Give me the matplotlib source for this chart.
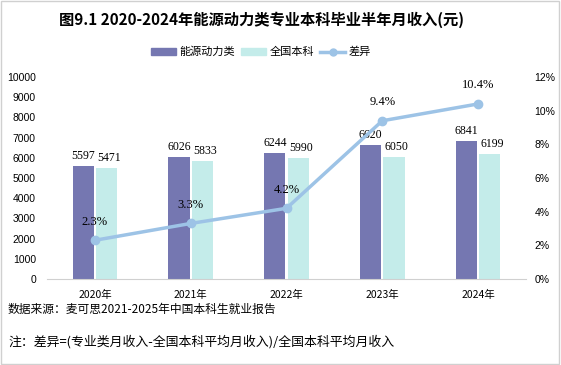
import matplotlib
matplotlib.use("Agg")
import matplotlib.pyplot as plt
import numpy as np
from matplotlib.lines import Line2D
from matplotlib.patches import Patch, Rectangle

years = ["2020年", "2021年", "2022年", "2023年", "2024年"]
major_income = [5597, 6026, 6244, 6620, 6841]
national_income = [5471, 5833, 5990, 6050, 6199]
diff_pct = [2.3, 3.3, 4.2, 9.4, 10.4]
left_ticks = list(range(0, 10001, 1000))
right_ticks = list(range(0, 13, 2))

title = "图9.1 2020-2024年能源动力类专业本科毕业半年月收入(元)"
source = "数据来源：麦可思2021-2025年中国本科生就业报告"
note = "注：差异=(专业类月收入-全国本科平均月收入)/全国本科平均月收入"

CJK = ["Noto Sans CJK SC", "DejaVu Sans"]
SERIF = ["Liberation Serif", "Noto Sans CJK SC"]
plt.rcParams['font.family'] = CJK

c_major = "#7577B1"
c_nat = "#C4ECEA"
c_line = "#9DC3E6"

fig = plt.figure(figsize=(5.61, 3.65), dpi=100)
fig.patches.append(Rectangle((0.002, 0.003), 0.995, 0.994, transform=fig.transFigure,
                             fill=False, edgecolor="#D0D0D0", linewidth=1.0))

ax = fig.add_axes([47/561, 1-279/365, (526-47)/561, (279-77)/365])
x = np.arange(len(years))
w = 0.22
g = 0.012
b1 = ax.bar(x - w/2 - g, major_income, width=w, color=c_major, zorder=2)
b2 = ax.bar(x + w/2 + g, national_income, width=w, color=c_nat, zorder=2)
ax.set_xlim(-0.5, len(years) - 0.5)
ax.set_ylim(0, 10000)
ax.set_yticks(left_ticks)
ax.set_yticklabels([str(v) for v in left_ticks], fontsize=7.5, family=["Liberation Sans"])
ax.set_xticks(x)
ax.set_xticklabels(years, fontsize=7.5)
ax.tick_params(axis='both', length=0, pad=8)
ax.tick_params(axis='y', pad=8)
for s in ["top", "left", "right"]:
    ax.spines[s].set_visible(False)
ax.spines["bottom"].set_color("#D0D0D0")

for rect, v in zip(b1, major_income):
    ax.annotate(str(v), (rect.get_x() + rect.get_width()/2, v), xytext=(0, 3),
                textcoords="offset points", ha="center", va="bottom", fontsize=8.5, family=SERIF)
for rect, v in zip(b2, national_income):
    ax.annotate(str(v), (rect.get_x() + rect.get_width()/2, v), xytext=(2, 3),
                textcoords="offset points", ha="center", va="bottom", fontsize=8.5, family=SERIF)

ax2 = ax.twinx()
ax2.plot(x, diff_pct, color=c_line, linewidth=2.5, marker="o", markersize=6, zorder=3)
ax2.set_ylim(0, 12)
ax2.set_yticks(right_ticks)
ax2.set_yticklabels([f"{v}%" for v in right_ticks], fontsize=7.5, family=["Liberation Sans"])
ax2.tick_params(axis='y', length=0, pad=6)
for s in ["top", "left", "right", "bottom"]:
    ax2.spines[s].set_visible(False)
for xi, v in zip(x, diff_pct):
    ax2.annotate(f"{v}%", (xi, v), xytext=(0, 9), textcoords="offset points",
                 ha="center", va="bottom", fontsize=9, family=SERIF)

fig.text(0.467, 1-20/365, title, ha="center", va="center", fontsize=11, fontweight="bold")

handles = [Patch(color=c_major), Patch(color=c_nat),
           Line2D([0], [0], color=c_line, linewidth=2.5, marker="o", markersize=5)]
fig.legend(handles, ["能源动力类", "全国本科", "差异"], loc="center",
           bbox_to_anchor=(0.465, 1-52/365), ncol=3, frameon=False, fontsize=8,
           handlelength=2.2, handleheight=0.6, columnspacing=0.6, handletextpad=0.3)

fig.text(8/561, 1-309/365, source, ha="left", va="center", fontsize=8.5, style="italic")
fig.text(8/561, 1-342/365, note, ha="left", va="center", fontsize=9.3, style="italic")

fig.savefig("out.png", dpi=100)
